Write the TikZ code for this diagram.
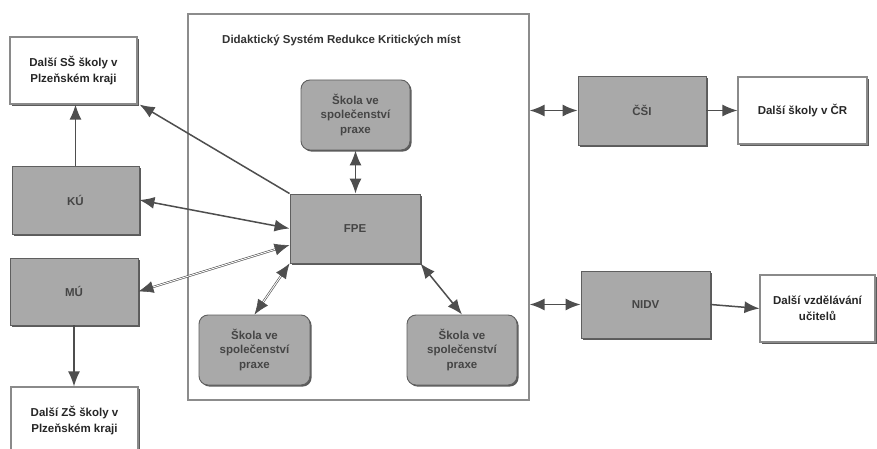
\documentclass[tikz,border=0pt]{standalone}
\usepackage{fontspec}
\setmainfont{Liberation Sans}
\usetikzlibrary{arrows.meta,shadows}
\definecolor{boxgray}{HTML}{A9A9A9}
\definecolor{edgegray}{HTML}{5F5F5F}
\definecolor{wedge}{HTML}{8A8A8A}
\definecolor{txtgray}{HTML}{454545}
\definecolor{linegray}{HTML}{4E4E4E}
\definecolor{shadowgray}{HTML}{4A4A4A}
\tikzset{
  shbox/.style={drop shadow={shadow xshift=1.6pt,shadow yshift=-1.6pt,fill=shadowgray,opacity=0.9}},
  graybox/.style={draw=edgegray,line width=0.9pt,fill=boxgray,shbox,align=center,
    font=\fontsize{11.5}{14.5}\selectfont\bfseries,text=txtgray,inner sep=2pt},
  whitebox/.style={draw=wedge,line width=1.1pt,fill=white,shbox,align=center,
    font=\fontsize{11.5}{15.5}\selectfont\bfseries,text=black!85,inner sep=2pt},
  roundbox/.style={graybox,rounded corners=9pt},
  conn/.style={draw=linegray,line width=1.5pt},
  tipA/.style={conn,-{Latex[length=15pt,width=12pt]}},
  tipB/.style={conn,{Latex[length=15pt,width=12pt]}-{Latex[length=15pt,width=12pt]}},
  tipBd/.style={draw=linegray,line width=0.6pt,double=white,double distance=0.9pt,
    {Latex[length=15pt,width=12pt,fill=linegray]}-{Latex[length=15pt,width=12pt,fill=linegray]}},
}
\begin{document}
\begin{tikzpicture}[x=1pt,y=-1pt]
\useasboundingbox (0,0) rectangle (877,449);
\clip (0,0) rectangle (877,449);
\fill[white] (0,0) rectangle (877,449);
% container
\node[draw=black!45,fill=white,line width=1.3pt,minimum width=341pt,minimum height=386pt,inner sep=0pt,
  drop shadow={shadow xshift=1pt,shadow yshift=-1pt,fill=black!20}] (sys) at (358.5,207) {};
\node[anchor=west,font=\fontsize{11.5}{14}\selectfont\bfseries,text=black!80,inner sep=0pt] (title) at (222,40) {Didaktický Systém Redukce Kritických míst};
% left column
\node[whitebox,minimum width=127pt,minimum height=67pt] (ss) at (73.5,70.5) {Další SŠ školy v\\Plzeňském kraji};
\node[graybox,minimum width=127pt,minimum height=68pt] (ku) at (75.5,200) {KÚ};
\node[graybox,minimum width=128pt,minimum height=67pt] (mu) at (74,291.5) {MÚ};
\node[whitebox,minimum width=127pt,minimum height=67pt] (zs) at (74.5,420.5) {Další ZŠ školy v\\Plzeňském kraji};
% inner system
\node[roundbox,minimum width=109pt,minimum height=70pt] (sk1) at (355.5,115) {Škola ve\\společenství\\praxe};
\node[graybox,minimum width=130pt,minimum height=69pt] (fpe) at (355,228.5) {FPE};
\node[roundbox,minimum width=111pt,minimum height=70pt] (sk2) at (254.5,350) {Škola ve\\společenství\\praxe};
\node[roundbox,minimum width=110pt,minimum height=70pt] (sk3) at (462,350) {Škola ve\\společenství\\praxe};
% right column
\node[graybox,minimum width=128pt,minimum height=69pt] (csi) at (642,110.5) {ČŠI};
\node[whitebox,minimum width=129pt,minimum height=67pt] (dcr) at (802.5,110.5) {Další školy v ČR};
\node[graybox,minimum width=129pt,minimum height=67pt] (nidv) at (645.5,304.5) {NIDV};
\node[whitebox,minimum width=115pt,minimum height=67pt] (dvu) at (817.5,308.5) {Další vzdělávání\\učitelů};
% connectors
\draw[tipA] (ku.north) -- (ku.north |- ss.south);
\draw[tipA] (mu.south) -- (mu.south |- zs.north);
\draw[tipA] (fpe.north west) -- ([xshift=2pt]ss.south east);
\draw[tipB] (ku.east) -- (fpe.west);
\draw[tipBd] (mu.east) -- ([yshift=-16.5pt]fpe.west);
\draw[tipB] (sk1.south) -- (sk1.south |- fpe.north);
\draw[tipBd] (sk2.north) -- (fpe.south west);
\draw[tipB] (fpe.south east) -- (sk3.north);
\draw[tipB] (csi.west -| sys.east) -- (csi.west);
\draw[tipA] (csi.east) -- (dcr.west);
\draw[tipB] (nidv.west -| sys.east) -- (nidv.west);
\draw[tipA] (nidv.east) -- (dvu.west);
\end{tikzpicture}
\end{document}
